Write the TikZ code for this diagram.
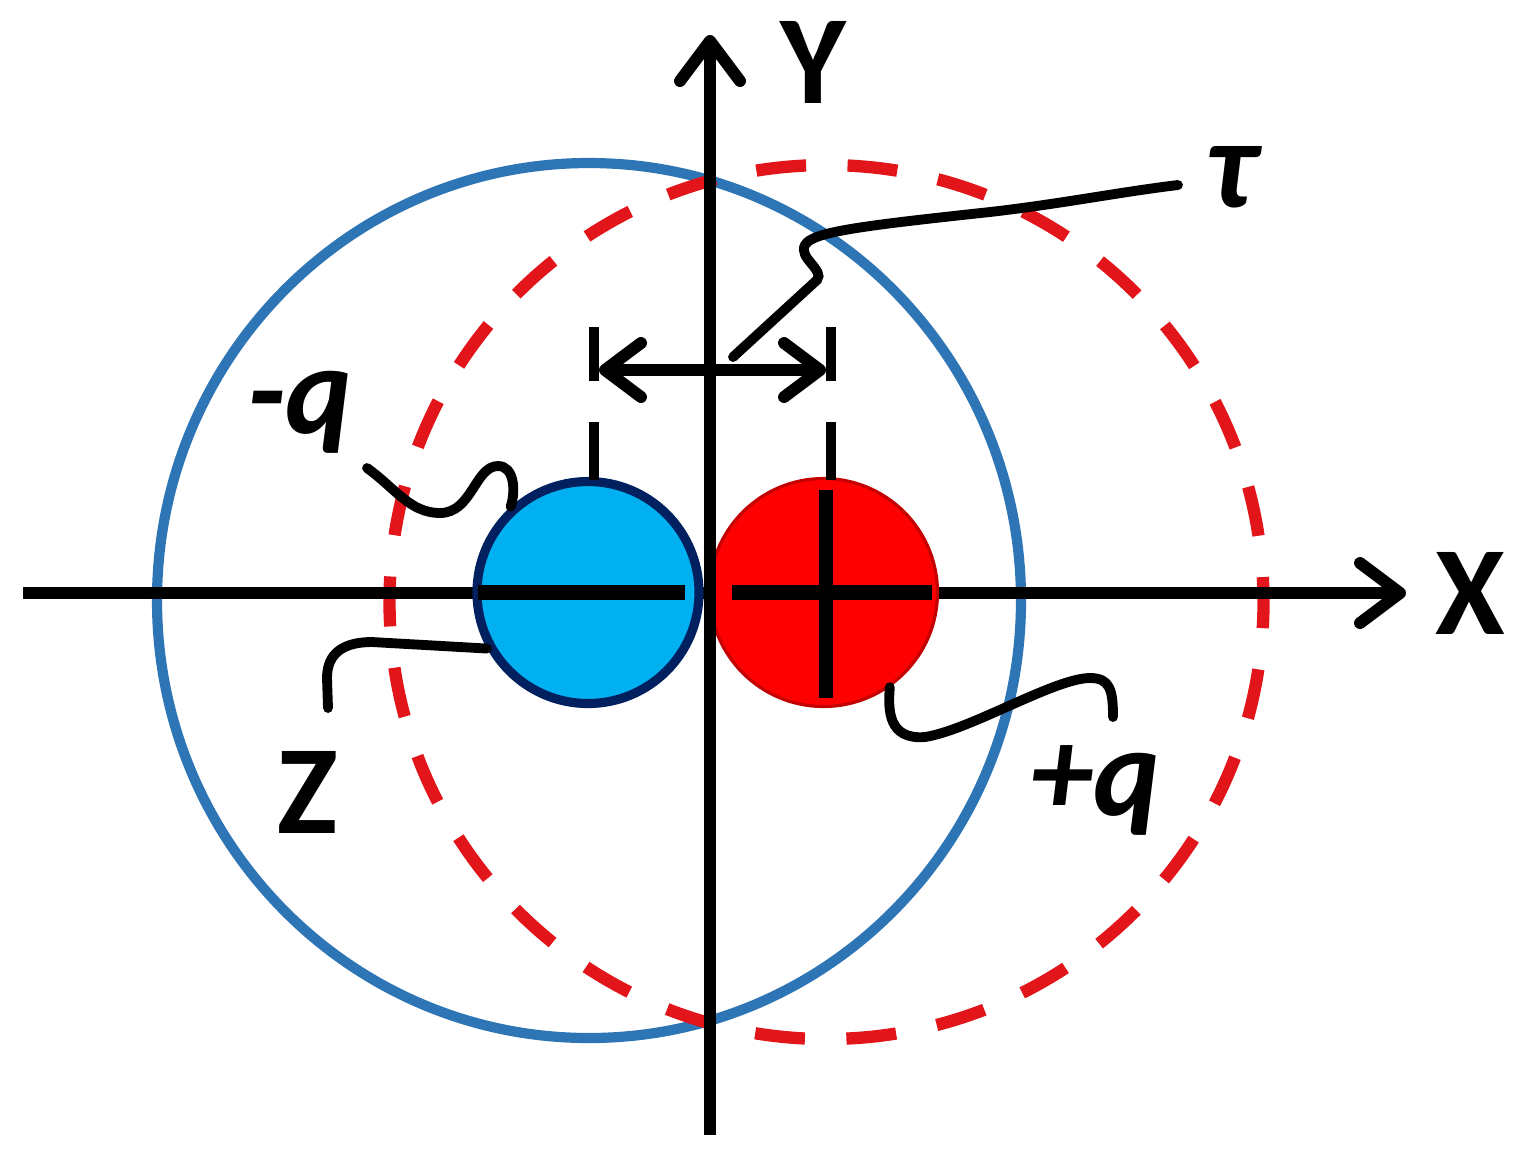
\documentclass[tikz,border=0pt]{standalone}
\usepackage{fontspec}
\setmainfont{Carlito}
\usetikzlibrary{positioning,arrows.meta,calc}

\definecolor{ringblue}{RGB}{46,117,182}
\definecolor{ringred}{RGB}{226,22,26}
\definecolor{ballblue}{RGB}{0,176,240}
\definecolor{ballnavy}{RGB}{0,32,96}
\definecolor{ballred}{RGB}{255,0,0}
\definecolor{ballrim}{RGB}{196,0,0}

\begin{document}
\begin{tikzpicture}[
axis/.style={
  line width=3.4pt,
  -{Straight Barb[length=4mm,width=6mm,round]}},
dimline/.style={
  line width=3.4pt,
  {Straight Barb[length=3.6mm,width=5.4mm,round]}-{Straight Barb[length=3.6mm,width=5.4mm,round]}},
tick/.style={line width=2.9pt},
lead/.style={line width=2.8pt, line cap=round},
sign/.style={line width=4.2pt},
lbl/.style={font=\fontsize{36}{40}\selectfont\bfseries, inner sep=0pt},
negball/.style={
  circle,
  draw=ballnavy,
  line width=2.6pt,
  fill=ballblue,
  minimum size=2.22cm},
posball/.style={
  circle,
  draw=ballrim,
  line width=0.9pt,
  fill=ballred,
  minimum size=2.28cm}
]
\useasboundingbox (0,0) rectangle (15.25,-11.51);
% shells
\draw[ringblue, line width=2.9pt]
  (5.89,-6.005) ellipse [x radius=4.32, y radius=4.375];
\draw[ringred, line width=3.5pt, dash pattern=on 0.5cm off 0.415cm, dash phase=0.25cm]
  (8.265,-6.02) circle [radius=4.37];
% x axis
\draw[axis] (0.23,-5.93) -- (14.06,-5.93) coordinate (xtip);
% charges
\node[negball] (neg) at (5.88,-5.925) {};
\node[posball] (pos) at (8.235,-5.925) {};
\draw[sign] ($(neg.center)+(-1.10,0)$) -- ($(neg.center)+(0.97,0)$);
\draw[sign] ($(pos.center)+(-0.915,0)$) -- ($(pos.center)+(1.085,0)$);
\draw[sign] ($(pos.center)+(0.025,1.03)$) -- ($(pos.center)+(0.025,-1.05)$);
% y axis
\draw[axis] (7.10,-11.35) -- (7.10,-0.35) coordinate (ytip);
% separation
\coordinate (dl) at (5.94,-3.70);
\coordinate (dr) at (8.31,-3.70);
\foreach \Pos in {dl,dr}{
  \draw[tick] ($(\Pos)+(0,0.43)$) -- ($(\Pos)+(0,-0.11)$);
  \draw[tick] ($(\Pos)+(0,-0.52)$) -- ($(\Pos)+(0,-1.10)$);
}
\draw[dimline] ($(dl)+(0.05,0)$) -- ($(dr)+(-0.05,0)$);
% leaders
\coordinate (taustart) at (7.33,-3.57);
\coordinate (tauend) at (11.78,-1.85);
\draw[lead] (taustart) -- (8.17,-2.80)
  .. controls (8.25,-2.70) and (7.98,-2.58) .. (8.05,-2.45)
  .. controls (8.12,-2.32) and (8.60,-2.26) .. (9.90,-2.12)
  .. controls (10.60,-2.04) and (11.20,-1.92) .. (tauend);
\coordinate (mqend) at (3.67,-4.68);
\draw[lead] (mqend)
  .. controls (3.95,-4.88) and (4.10,-5.13) .. (4.40,-5.13)
  .. controls (4.72,-5.13) and (4.75,-4.66) .. (4.98,-4.66)
  .. controls (5.14,-4.66) and (5.16,-4.90) .. (neg.132);
\coordinate (zend) at (3.28,-7.08);
\draw[lead] (zend) -- (3.27,-6.78)
  .. controls (3.27,-6.52) and (3.45,-6.42) .. (3.72,-6.42)
  -- (neg.209);
\coordinate (pqend) at (11.13,-7.17);
\draw[lead] (pos.-55)
  .. controls (8.88,-7.10) and (8.88,-7.40) .. (9.25,-7.37)
  .. controls (9.70,-7.30) and (10.55,-6.78) .. (10.90,-6.78)
  .. controls (11.10,-6.78) and (11.13,-6.90) .. (pqend);
% labels
\node[lbl, right=0.29cm of xtip] (xl) {X};
\node[lbl] (yl) at (8.13,-0.62) {Y};
\node[lbl] (taul) at (12.31,-1.77) {\itshape τ};
\node[lbl] (mql) at (3.00,-4.12) {\itshape -q};
\node[lbl] (zl) at (3.08,-7.92) {Z};
\node[lbl] (pql) at (10.95,-7.90) {\itshape +q};
\end{tikzpicture}
\end{document}
